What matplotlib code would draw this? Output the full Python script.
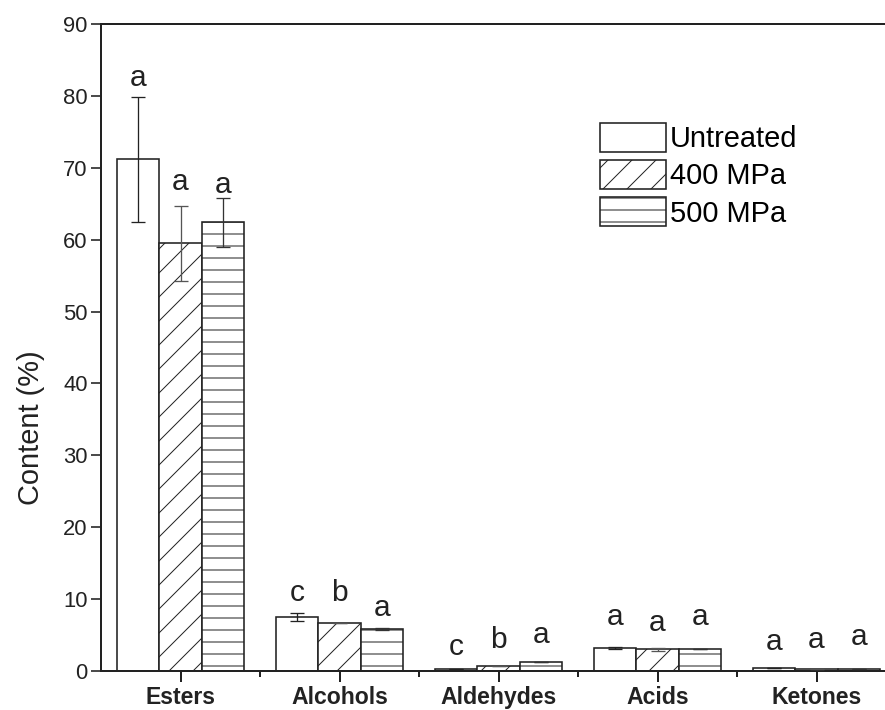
import matplotlib
matplotlib.use("Agg")
import matplotlib.pyplot as plt
import numpy as np

plt.rcParams['font.family'] = ['Liberation Sans', 'DejaVu Sans']
plt.rcParams['hatch.linewidth'] = 1.0

# data
categories = ["Esters", "Alcohols", "Aldehydes", "Acids", "Ketones"]
series = ["Untreated", "400 MPa", "500 MPa"]
untreated = [71.2, 7.5, 0.25, 3.15, 0.45]
mpa400 = [59.5, 6.7, 0.65, 3.0, 0.3]
mpa500 = [62.4, 5.85, 1.25, 3.1, 0.3]
err_untreated = [8.7, 0.55, 0.0, 0.15, 0.0]
err_400 = [5.2, 0.0, 0.0, 0.2, 0.0]
err_500 = [3.45, 0.2, 0.05, 0.0, 0.0]
letters_untreated = ["a", "c", "c", "a", "a"]
letters_400 = ["a", "b", "b", "a", "a"]
letters_500 = ["a", "a", "a", "a", "a"]
# heights where the significance letters sit
lab_untreated = [82.5, 10.85, 3.35, 7.5, 4.0]
lab_400 = [68.0, 10.85, 4.3, 6.7, 4.3]
lab_500 = [67.6, 8.75, 5.0, 7.5, 4.7]

values = [untreated, mpa400, mpa500]
errors = [err_untreated, err_400, err_500]
letters = [letters_untreated, letters_400, letters_500]
labpos = [lab_untreated, lab_400, lab_500]
hatches = ["", "/", "-"]
errcols = ["#222222", "#555555", "#333333"]

DPI = 72
fig = plt.figure(figsize=(885 / DPI, 710 / DPI), dpi=DPI)
ax = fig.add_axes([101 / 885, 39 / 710, 795 / 885, 647 / 710])

x = np.arange(len(categories))
w = 0.268
ink = "#222222"
for i in range(3):
    xs = x + (i - 1) * w
    ax.bar(xs, values[i], w, color="white", edgecolor=ink, linewidth=1.6,
           hatch=hatches[i], label=series[i], zorder=2)
    ax.errorbar(xs, values[i], yerr=errors[i], fmt="none", ecolor=errcols[i],
                elinewidth=1.3, capsize=7, capthick=1.3, zorder=3)
    for xx, yy, t in zip(xs, labpos[i], letters[i]):
        ax.text(xx, yy, t, ha="center", va="center", fontsize=30, color=ink)

ax.set_xlim(-0.5, 4.5)
ax.set_ylim(0, 90)
ax.set_yticks(np.arange(0, 91, 10))
ax.set_xticks(x)
ax.set_xticks(x[:-1] + 0.5, minor=True)
ax.set_xticklabels(categories, fontweight="bold", fontsize=23)
ax.tick_params(axis="y", labelsize=22, length=10, width=1.6, direction="out",
               colors=ink, labelcolor=ink)
ax.tick_params(axis="x", which="major", length=11, width=2, pad=4,
               colors=ink, labelcolor=ink)
ax.tick_params(axis="x", which="minor", length=6, width=2, colors=ink)
for s in ax.spines.values():
    s.set_linewidth(2)
    s.set_color(ink)

ax.set_ylabel("Content (%)", fontsize=29, color=ink)
ax.yaxis.set_label_coords(-0.070, 0.376)

ax.legend(loc="upper left", bbox_to_anchor=(0.628, 0.847), frameon=False,
          fontsize=29, handlelength=2.25, handleheight=1.15,
          labelspacing=0.24, handletextpad=0.15, borderpad=0,
          borderaxespad=0)

fig.savefig("out.png", dpi=DPI)
